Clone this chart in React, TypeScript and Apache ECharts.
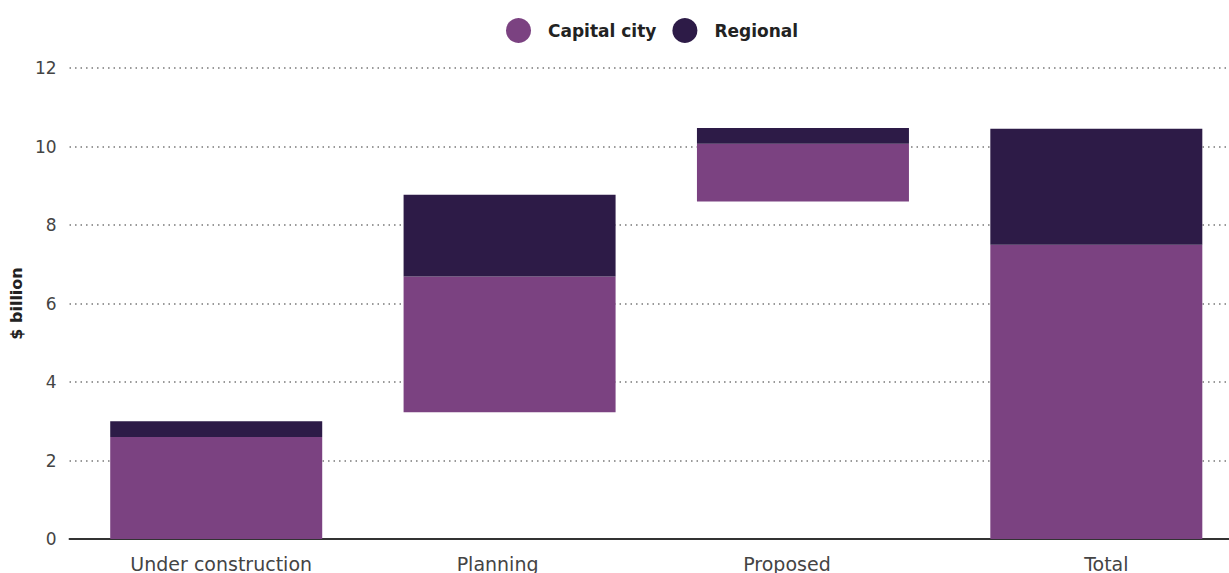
import React, { useEffect, useRef } from "react";
import * as echarts from "echarts";

const categories = ["Under construction", "Planning", "Proposed", "Total"];
const baseValues = [0, 3.23, 8.6, 0];
const capitalValues = [2.6, 3.46, 1.47, 7.5];
const regionalValues = [0.4, 2.08, 0.4, 2.95];
const yTicks = [0, 2, 4, 6, 8, 10, 12];

const labelStyles = ["a", "b", "c", "d"];

export default function App() {
  const ref = useRef<HTMLDivElement>(null);
  useEffect(() => {
    if (!ref.current) return;
    const chart = echarts.init(ref.current, null, { renderer: "svg" });
    const font = "DejaVu Sans";
    const lab = { fontSize: 19, color: "#444", fontFamily: font };
    chart.setOption({
      animation: false,
      textStyle: { fontFamily: font },
      legend: {
        top: 13,
        left: 501,
        data: ["Capital city", "Regional"],
        icon: "circle",
        itemWidth: 25,
        itemHeight: 25,
        itemGap: 16,
        textStyle: {
          fontFamily: font,
          fontSize: 17,
          fontWeight: "bold",
          color: "#222",
          padding: [0, 0, 0, 12],
        },
      },
      grid: { left: 68, width: 1175, top: 68, bottom: 33, containLabel: false },
      xAxis: {
        type: "category",
        data: categories,
        axisLine: { lineStyle: { color: "#333", width: 2 } },
        axisTick: { show: false },
        axisLabel: {
          margin: 15,
          ...lab,
          formatter: (v: string, i: number) => `{${labelStyles[i]}|${v}}`,
          rich: {
            a: { ...lab, padding: [0, 0, 0, 10] },
            b: { ...lab, padding: [0, 24, 0, 0] },
            c: { ...lab, padding: [0, 32, 0, 0] },
            d: { ...lab, padding: [0, 0, 0, 20] },
          },
        },
      },
      yAxis: {
        type: "value",
        min: yTicks[0],
        max: yTicks[yTicks.length - 1],
        interval: 2,
        name: "$ billion",
        nameLocation: "middle",
        nameGap: 42,
        nameTextStyle: { fontSize: 16, fontWeight: "bold", color: "#222", fontFamily: font },
        axisLine: { show: false },
        axisTick: { show: false },
        axisLabel: { margin: 13, fontSize: 17, color: "#444", fontFamily: font },
        splitLine: { lineStyle: { type: [1.5, 4], color: "#777", width: 1.5 } },
      },
      series: [
        {
          name: "base",
          type: "bar",
          stack: "s",
          data: baseValues,
          itemStyle: { color: "transparent" },
          barWidth: 212,
          silent: true,
        },
        {
          name: "Capital city",
          type: "bar",
          stack: "s",
          data: capitalValues,
          itemStyle: { color: "#7B4281" },
          barWidth: 212,
        },
        {
          name: "Regional",
          type: "bar",
          stack: "s",
          data: regionalValues,
          itemStyle: { color: "#2D1B47" },
          barWidth: 212,
        },
      ],
    });
    return () => chart.dispose();
  }, []);
  return (
    <div
      style={{ position: "fixed", left: 0, top: 0, width: 1229, height: 573, overflow: "hidden", background: "#fff" }}
    >
      <div ref={ref} style={{ width: 1250, height: 573 }} />
    </div>
  );
}
